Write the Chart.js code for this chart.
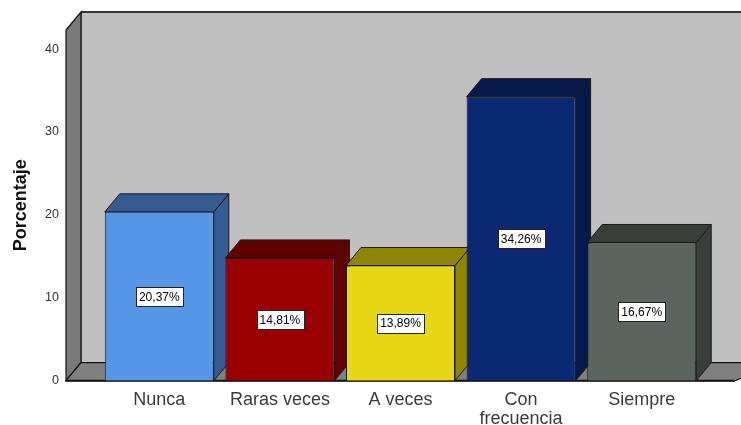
<!DOCTYPE html>
<html><head><meta charset="utf-8">
<script src="https://cdn.jsdelivr.net/npm/chart.js@4/dist/chart.umd.min.js"></script>
<style>html,body{margin:0;padding:0;background:#fff}#wrap{width:741px;height:425px}</style>
</head><body><div id="wrap"><canvas id="c" width="741" height="425"></canvas></div>
<script>
const categories = ['Nunca', 'Raras veces', 'A veces', ['Con', 'frecuencia'], 'Siempre'];
const values = [20.37, 14.81, 13.89, 34.26, 16.67];
const valueLabels = ['20,37%', '14,81%', '13,89%', '34,26%', '16,67%'];
const yTicks = [0, 10, 20, 30, 40];
const frontColors = ['#5596e6', '#990000', '#e6d814', '#0b2873', '#5b645e'];
const darkColors = ['#345c92', '#600000', '#8f8600', '#07184a', '#383e39'];

const DX = 15, DY = 18;

function poly(ctx, pts, fill, stroke, lw) {
  ctx.beginPath();
  ctx.moveTo(pts[0][0], pts[0][1]);
  for (let i = 1; i < pts.length; i++) ctx.lineTo(pts[i][0], pts[i][1]);
  ctx.closePath();
  ctx.fillStyle = fill; ctx.fill();
  ctx.lineWidth = lw || 1; ctx.strokeStyle = stroke; ctx.stroke();
}

const threeD = {
  id: 'threeD',
  beforeDatasetsDraw(chart) {
    const ctx = chart.ctx, a = chart.chartArea, ys = chart.scales.y;
    const y0 = ys.getPixelForValue(0), yt = a.top;
    const lf = a.left - 33, rt = a.right + 38;
    ctx.save();
    poly(ctx, [[lf+DX, yt-DY],[rt+20, yt-DY],[rt+20, y0-DY],[lf+DX, y0-DY]], '#c0c0c0', '#222', 1);
    ctx.beginPath(); ctx.moveTo(lf+DX, yt-DY); ctx.lineTo(rt+20, yt-DY); ctx.lineWidth=2; ctx.strokeStyle='#333'; ctx.stroke();
    poly(ctx, [[lf, yt],[lf+DX, yt-DY],[lf+DX, y0-DY],[lf, y0]], '#7a7a7a', '#111', 1.2);
    poly(ctx, [[lf, y0],[lf+DX, y0-DY],[rt+40, y0-DY],[a.right+33, y0]], '#808080', '#111', 1.2);
    ctx.beginPath(); ctx.moveTo(lf, y0); ctx.lineTo(a.right+33, y0); ctx.lineWidth=2; ctx.strokeStyle='#111'; ctx.stroke();
    const meta = chart.getDatasetMeta(0);
    meta.data.forEach((b, i) => {
      const l = b.x - b.width/2, r = b.x + b.width/2;
      poly(ctx, [[r, b.y],[r+DX, b.y-DY],[r+DX, b.base-DY],[r, b.base]], darkColors[i], '#1a1a1a', 1);
      poly(ctx, [[l, b.y],[l+DX, b.y-DY],[r+DX, b.y-DY],[r, b.y]], darkColors[i], '#1a1a1a', 1);
    });
    ctx.restore();
  },
  afterDatasetsDraw(chart) {
    const ctx = chart.ctx;
    const meta = chart.getDatasetMeta(0);
    ctx.save();
    ctx.font = '12px "Liberation Sans", Arial, sans-serif';
    ctx.textAlign = 'center'; ctx.textBaseline = 'middle';
    meta.data.forEach((b, i) => {
      const cy = (b.y + b.base) / 2;
      const t = valueLabels[i];
      const w = ctx.measureText(t).width + 6, h = 19;
      const bx = Math.round(b.x - w/2) + 0.5, by = Math.round(cy - h/2) + 0.5;
      ctx.fillStyle = '#fff';
      ctx.fillRect(bx, by, Math.round(w), h);
      ctx.strokeStyle = '#222'; ctx.lineWidth = 1;
      ctx.strokeRect(bx, by, Math.round(w), h);
      ctx.fillStyle = '#000';
      ctx.fillText(t, b.x, cy + 1);
    });
    ctx.restore();
  }
};

new Chart(document.getElementById('c'), {
  type: 'bar',
  data: {
    labels: categories,
    datasets: [{
      data: values,
      backgroundColor: frontColors,
      borderColor: '#1a1a1a',
      borderWidth: 1,
      barPercentage: 0.904,
      categoryPercentage: 1
    }]
  },
  options: {
    responsive: false,
    animation: false,
    events: [],
    layout: { padding: { left: 0, right: 39, top: 30, bottom: 0 } },
    plugins: { legend: { display: false }, tooltip: { enabled: false } },
    scales: {
      x: {
        grid: { display: false, drawTicks: false },
        border: { display: false },
        ticks: { color: '#3a3a3a', padding: 9, font: { family: '"Liberation Sans", Arial, sans-serif', size: 18, lineHeight: 1.1 } },
        afterFit(s) { s.height = 44.3; }
      },
      y: {
        min: 0, max: 42.3,
        grid: { display: false, drawTicks: false },
        border: { display: false },
        ticks: {
          stepSize: 10, includeBounds: false, padding: 40, color: '#333',
          font: { family: '"Liberation Sans", Arial, sans-serif', size: 12.5 }
        },
        afterBuildTicks(s) { s.ticks = yTicks.map(v => ({ value: v })); },
        title: {
          display: true, text: 'Porcentaje', color: '#111',
          padding: { top: 10, bottom: 0 },
          font: { family: '"Liberation Sans", Arial, sans-serif', size: 18, weight: 'bold' }
        },
        afterFit(s) { s.width = 99; s.paddingTop = 0; s.paddingBottom = 0; }
      }
    }
  },
  plugins: [threeD]
});
</script></body></html>
